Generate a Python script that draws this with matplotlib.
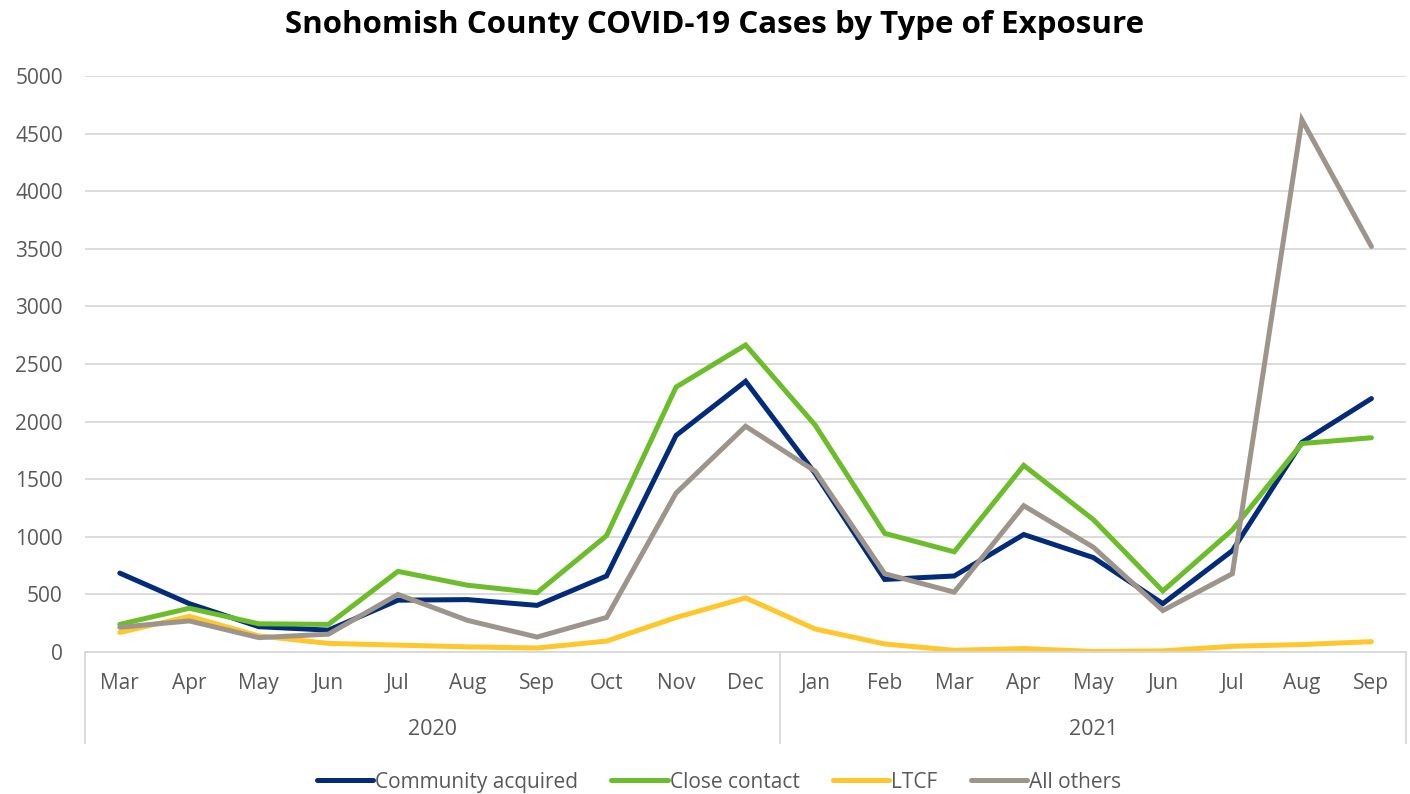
import matplotlib.pyplot as plt
import matplotlib.transforms as mtransforms

# Dữ liệu
months = ['Mar', 'Apr', 'May', 'Jun', 'Jul', 'Aug', 'Sep', 'Oct', 'Nov', 'Dec',
          'Jan', 'Feb', 'Mar', 'Apr', 'May', 'Jun', 'Jul', 'Aug', 'Sep']
years = ['2020', '2021']
year_counts = [10, 9]

community = [685, 420, 220, 190, 450, 455, 405, 660, 1880, 2350,
             1550, 630, 660, 1020, 820, 420, 880, 1820, 2200]
close_contact = [240, 380, 245, 240, 700, 580, 515, 1010, 2300, 2665,
                 1970, 1030, 870, 1620, 1150, 530, 1060, 1810, 1860]
ltcf = [170, 310, 140, 75, 60, 45, 35, 95, 300, 470,
        200, 70, 15, 30, 5, 10, 50, 65, 90]
all_others = [215, 270, 125, 155, 500, 275, 130, 300, 1380, 1960,
              1570, 680, 520, 1270, 910, 360, 680, 4620, 3520]

plt.rcParams['font.family'] = ['Open Sans', 'DejaVu Sans']
text_color = '#595959'
grid_color = '#d9d9d9'

fig = plt.figure(figsize=(14.1, 7.94), dpi=100)
ax = fig.add_axes([0.0603, 0.1788, 0.937, 0.7255])

x = list(range(len(months)))
series = [
    ('Community acquired', community, '#022b7a'),
    ('Close contact', close_contact, '#6cbd2a'),
    ('LTCF', ltcf, '#ffc72c'),
    ('All others', all_others, '#9d958b'),
]
for name, vals, col in series:
    ax.plot(x, vals, color=col, lw=3.6, label=name, solid_capstyle='round',
            solid_joinstyle='miter')

ax.set_xlim(-0.5, len(months) - 0.5)
ax.set_ylim(0, 5000)
ax.set_yticks(range(0, 5001, 500))
ax.yaxis.grid(True, color=grid_color, lw=1.3)
ax.set_axisbelow(True)
for s in ['top', 'right', 'left']:
    ax.spines[s].set_visible(False)
ax.spines['bottom'].set_color(grid_color)
ax.spines['bottom'].set_linewidth(1.3)

ax.set_xticks(x)
ax.set_xticklabels(months)
ax.tick_params(axis='x', length=0, pad=15, labelsize=15, labelcolor=text_color)
ax.tick_params(axis='y', length=0, pad=16, labelsize=15, labelcolor=text_color)

# Trục phân loại hai cấp (năm)
trans = mtransforms.blended_transform_factory(ax.transData, ax.transAxes)
bounds = [-0.5]
for c in year_counts:
    bounds.append(bounds[-1] + c)
for b in bounds:
    ax.plot([b, b], [0, -0.158], color=grid_color, lw=1.3, transform=trans, clip_on=False)
for i, yr in enumerate(years):
    ax.text((bounds[i] + bounds[i + 1]) / 2, -0.134, yr, transform=trans,
            ha='center', va='center', fontsize=15.5, color=text_color)

fig.suptitle('Snohomish County COVID-19 Cases by Type of Exposure',
             fontsize=22.5, fontweight='bold', y=0.987, x=0.507)

fig.legend(loc='center', bbox_to_anchor=(0.51, 0.015), ncol=4, frameon=False,
           fontsize=15, handlelength=2.7, handletextpad=0.1, columnspacing=1.6,
           labelcolor=text_color)

fig.savefig('out.png', dpi=100)
